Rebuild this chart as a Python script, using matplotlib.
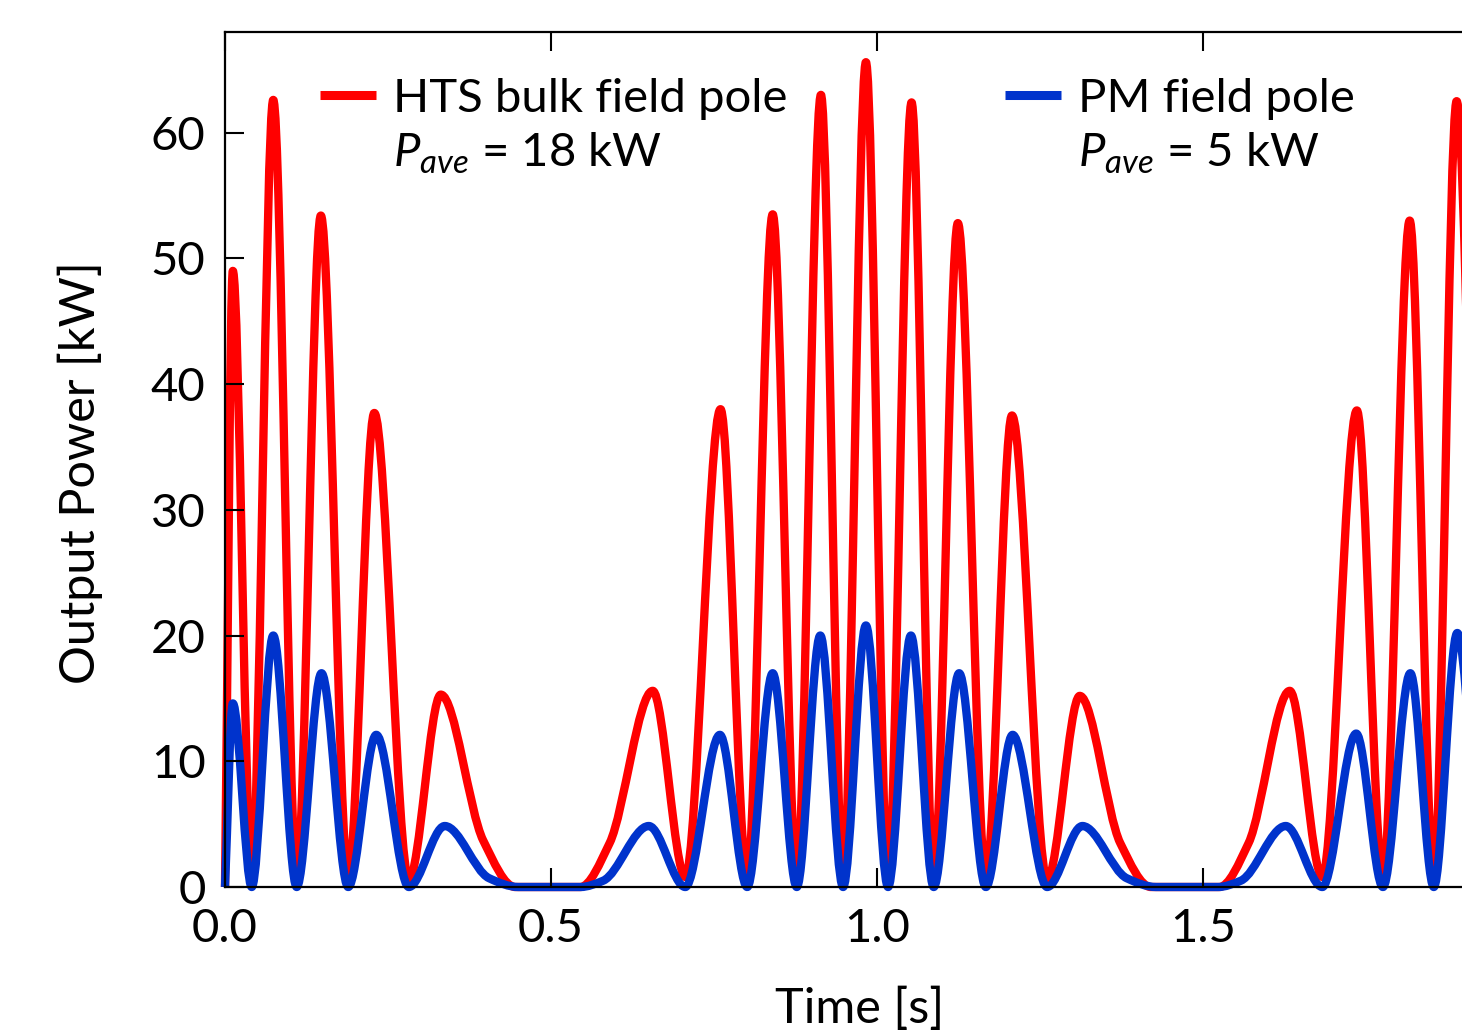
import numpy as np
import matplotlib
matplotlib.use("Agg")
import matplotlib.pyplot as plt
from matplotlib.path import Path
from matplotlib.patches import PathPatch
from matplotlib.lines import Line2D

# ---------------- data ----------------
# key points (times in s, power in kW): troughs, peaks and shoulders
t_hts = [0.000, 0.012, 0.041, 0.074, 0.110, 0.147, 0.189, 0.229, 0.282, 0.331,
         0.396, 0.445, 0.545, 0.590, 0.656, 0.706,
         0.760, 0.801, 0.840, 0.877, 0.914, 0.948, 0.983, 1.017, 1.053, 1.087,
         1.124, 1.167, 1.207, 1.261, 1.311, 1.373, 1.420, 1.525,
         1.570, 1.633, 1.683, 1.736, 1.776, 1.817, 1.854, 1.889,
         1.925]
p_hts = [0.0, 49.0, 0.8, 62.6, 0.8, 53.4, 0.8, 37.7, 0.6, 15.3,
         3.7, 0.0, 0.0, 3.5, 15.6, 0.8,
         38.0, 0.8, 53.5, 0.8, 63.0, 0.8, 65.6, 0.8, 62.4, 0.8,
         52.8, 0.8, 37.5, 0.6, 15.2, 3.5, 0.0, 0.0,
         3.5, 15.6, 0.8, 37.9, 0.8, 53.0, 0.8, 62.5,
         0.8]

t_pm = [0.000, 0.012, 0.041, 0.074, 0.110, 0.148, 0.189, 0.232, 0.282, 0.337,
        0.405, 0.450, 0.545, 0.580, 0.650, 0.706, 0.759, 0.801,
        0.840, 0.877, 0.913, 0.948, 0.983, 1.017, 1.052, 1.087, 1.126, 1.167,
        1.208, 1.261, 1.315, 1.383, 1.428, 1.523, 1.558, 1.627,
        1.683, 1.735, 1.776, 1.818, 1.854, 1.890, 1.925]
p_pm = [0.0, 14.6, 0.0, 20.0, 0.0, 17.0, 0.0, 12.1, 0.0, 4.85,
        0.7, 0.0, 0.0, 0.5, 4.85, 0.0, 12.1, 0.0,
        17.0, 0.0, 20.0, 0.0, 20.8, 0.0, 20.0, 0.0, 17.0, 0.0,
        12.1, 0.0, 4.85, 0.7, 0.0, 0.0, 0.5, 4.85,
        0.0, 12.2, 0.0, 17.0, 0.0, 20.2, 0.0]

x_ticks = [0.0, 0.5, 1.0, 1.5]
x_tick_labels = ["0.0", "0.5", "1.0", "1.5"]
y_ticks = [0, 10, 20, 30, 40, 50, 60]
labels = ["HTS bulk field pole", "PM field pole"]
p_ave = [18, 5]

RED = "#FF0000"
BLUE = "#0033CC"
FONT = "Lato"

plt.rcParams["font.family"] = [FONT, "DejaVu Sans"]
plt.rcParams["mathtext.fontset"] = "custom"
plt.rcParams["mathtext.rm"] = FONT
plt.rcParams["mathtext.it"] = FONT + ":italic"
plt.rcParams["mathtext.bf"] = FONT + ":bold"


def smooth_path(t, p):
    """Monotone cubic (Fritsch-Carlson) through the key points, as Bezier path."""
    t = np.asarray(t, float)
    p = np.asarray(p, float)
    h = np.diff(t)
    d = np.diff(p) / h
    m = np.zeros_like(p)
    m[0] = d[0]
    m[-1] = d[-1]
    for k in range(1, len(p) - 1):
        if d[k - 1] * d[k] > 0:
            w1 = 2 * h[k] + h[k - 1]
            w2 = h[k] + 2 * h[k - 1]
            m[k] = (w1 + w2) / (w1 / d[k - 1] + w2 / d[k])
    verts = [(t[0], p[0])]
    codes = [Path.MOVETO]
    for k in range(len(h)):
        verts += [(t[k] + h[k] / 3, p[k] + m[k] * h[k] / 3),
                  (t[k + 1] - h[k] / 3, p[k + 1] - m[k + 1] * h[k] / 3),
                  (t[k + 1], p[k + 1])]
        codes += [Path.CURVE4] * 3
    return Path(verts, codes)


fig = plt.figure(figsize=(14.62, 10.32), dpi=100)
ax = fig.add_axes([225 / 1462, (1032 - 887) / 1032, 1304 / 1462, 855 / 1032])

ax.set_xlim(0, 2.0)
ax.set_ylim(0, 68)

for t, p, c in [(t_hts, p_hts, RED), (t_pm, p_pm, BLUE)]:
    patch = PathPatch(smooth_path(t, p), facecolor="none", edgecolor=c,
                      lw=6.0, joinstyle="round", capstyle="butt", clip_on=False)
    ax.add_patch(patch)

ax.set_xticks(x_ticks)
ax.set_xticklabels(x_tick_labels)
ax.set_yticks(y_ticks)
ax.tick_params(axis="both", direction="in", length=13.5, width=1.5,
               labelsize=34, colors="black")
ax.tick_params(axis="x", top=True, pad=15)
ax.tick_params(axis="y", right=False, pad=14)
for s in ax.spines.values():
    s.set_linewidth(1.6)

ax.set_xlabel("Time [s]", fontsize=35)
ax.xaxis.set_label_coords((860 - 225) / 1304, (887 - 987) / 855)
ax.set_ylabel("Output Power [kW]", fontsize=35, va="center")
ax.yaxis.set_label_coords((80 - 225) / 1304, (887 - 473) / 855)

handles = [Line2D([], [], color=RED, lw=6.5, solid_capstyle="butt"),
           Line2D([], [], linestyle="none"),
           Line2D([], [], color=BLUE, lw=6.5, solid_capstyle="butt"),
           Line2D([], [], linestyle="none")]
texts = [labels[0], r"$P_{ave}$ = %d kW" % p_ave[0],
         labels[1], r"$P_{ave}$ = %d kW" % p_ave[1]]
leg = ax.legend(handles, texts, ncol=2, frameon=False, fontsize=34,
                loc="upper left",
                bbox_to_anchor=(320 / 1462, 1 - 78 / 1032),
                bbox_transform=fig.transFigure,
                handlelength=1.19, handletextpad=0.36, columnspacing=4.60,
                labelspacing=0.23, borderpad=0, borderaxespad=0)

fig.savefig("out.png", dpi=100)
